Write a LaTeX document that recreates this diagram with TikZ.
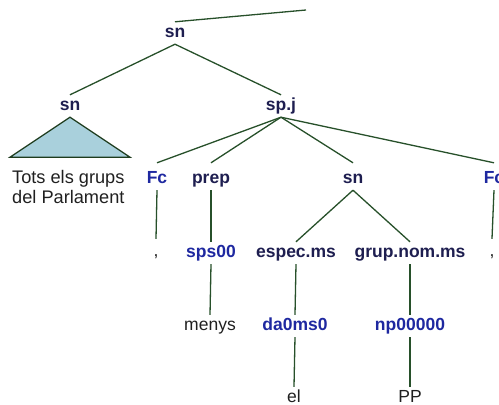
\documentclass[tikz,border=0pt]{standalone}
\usepackage{fontspec}
\setmainfont{Liberation Sans}
\usetikzlibrary{calc}
\definecolor{edgegreen}{HTML}{27502A}
\definecolor{catdark}{HTML}{1E1E50}
\definecolor{catblue}{HTML}{1E28A0}
\definecolor{leafgray}{HTML}{202020}
\definecolor{trifill}{HTML}{A9D0DC}
\definecolor{tridraw}{HTML}{1E3C1E}
\tikzset{
  lbl/.style={anchor=base, inner xsep=0pt, inner ysep=3pt, text height=12pt, text depth=4pt,
    font=\fontsize{17.5}{20}\selectfont\bfseries},
  catlbl/.style={lbl, text=catdark},
  postag/.style={lbl, text=catblue},
  leaflbl/.style={lbl, font=\fontsize{17.5}{20}\selectfont, text=leafgray},
  conn/.style={draw=edgegreen, line width=1.3pt},
  tribox/.style={draw=tridraw, fill=trifill, line width=1.3pt, line join=miter},
}
\begin{document}
\begin{tikzpicture}[x=1pt,y=-1pt]
\useasboundingbox (0,0) rectangle (499,405);
\clip (0,0) rectangle (499,405);
% nodes
\node[catlbl] (snt) at (175,37) {sn};
\coordinate (rootup) at (306,10);
\node[catlbl] (snl) at (70,110) {sn};
\node[catlbl] (spj) at (281,110) {sp.j};
\node[postag] (fc1) at (157,183) {Fc};
\node[catlbl] (prep) at (211,183) {prep};
\node[catlbl] (snm) at (353,183) {sn};
\node[postag] (fc2) at (494,183) {Fc};
\node[leaflbl] (com1) at (156,256) {,};
\node[postag] (sps) at (211,257) {sps00};
\node[catlbl] (espec) at (296,257) {espec.ms};
\node[catlbl] (grup) at (410,257) {grup.nom.ms};
\node[leaflbl] (com2) at (492,256) {,};
\node[leaflbl] (menys) at (210,330) {menys};
\node[postag] (da) at (295,330) {da0ms0};
\node[postag] (np) at (410,330) {np00000};
\node[leaflbl] (el) at (294,402) {el};
\node[leaflbl] (pp) at (410,402) {PP};
\node[anchor=north west, inner sep=0pt, align=left, text=leafgray,
  font=\fontsize{18.2}{20.5}\selectfont] (tots) at (12,170) {Tots els grups\\del Parlament};
% connectors
\draw[conn] (snt.north) -- (rootup);
\draw[conn] (snt.south) -- (snl.north);
\draw[conn] (snt.south) -- (spj.north);
\draw[tribox] (snl.south) -- ++(-60,40) -- ++(120,0) -- cycle;
\draw[conn] (spj.south) -- ($(fc1.north)+(0,-5)$);
\draw[conn] (spj.south) -- ($(prep.north)+(0,-5)$);
\draw[conn] (spj.south) -- ($(snm.north)+(0,-5)$);
\draw[conn] (spj.south) -- ($(fc2.north)+(0,-5)$);
\draw[conn] (fc1.south) -- ($(com1.north)+(0,-2)$);
\draw[conn] (prep.south) -- (sps.north);
\draw[conn] (snm.south) -- (espec.north);
\draw[conn] (snm.south) -- (grup.north);
\draw[conn] (fc2.south) -- ($(com2.north)+(0,-2)$);
\draw[conn] (sps.south) -- (menys.north);
\draw[conn] (espec.south) -- (da.north);
\draw[conn] (grup.south) -- (np.north);
\draw[conn] (da.south) -- (el.north);
\draw[conn] (np.south) -- (pp.north);
\end{tikzpicture}
\end{document}
